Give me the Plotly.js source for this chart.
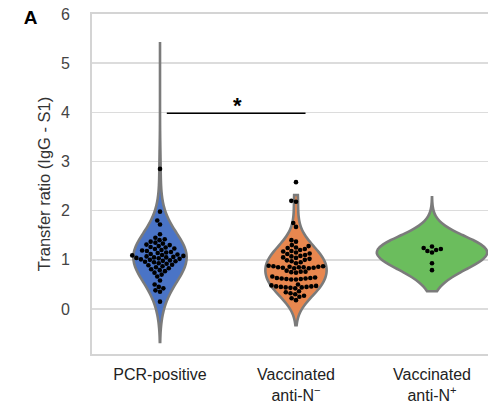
<!DOCTYPE html>
<html>
<head>
<meta charset="utf-8">
<script src="https://cdn.plot.ly/plotly-3.0.1.min.js"></script>
<style>
html,body{margin:0;padding:0;overflow:hidden;background:#fff;}
#chart{width:500px;height:406px;}
</style>
</head>
<body>
<div id="chart"></div>
<script>
// ---- data ----
const categories = ["PCR-positive", "Vaccinated<br>anti-N<sup>−</sup>", "Vaccinated<br>anti-N<sup>+</sup>"];
const yTicks = [0, 1, 2, 3, 4, 5, 6];

const pcrPositive = [2.85, 1.98, 1.80, 1.72, 1.52, 1.45,
  1.42, 1.40, 1.37, 1.35, 1.33, 1.31, 1.30, 1.28, 1.26, 1.25, 1.23, 1.22, 1.20, 1.19,
  1.18, 1.16, 1.15, 1.14, 1.12, 1.11, 1.10, 1.09, 1.08, 1.07, 1.06, 1.05, 1.05, 1.04,
  1.03, 1.02, 1.01, 1.00, 0.99, 0.98, 0.97, 0.96, 0.95, 0.93, 0.92, 0.90, 0.89, 0.87,
  0.85, 0.83, 0.81, 0.79, 0.77, 0.74, 0.70,
  0.66, 0.58, 0.50, 0.45, 0.42, 0.38, 0.35, 0.15];

const vaccAntiNneg = [2.58, 2.20, 2.18, 1.75, 1.67, 1.40, 1.37,
  1.30, 1.28, 1.25, 1.24, 1.22, 1.20, 1.18, 1.17, 1.15, 1.13, 1.12, 1.10, 1.08, 1.07,
  1.05, 1.04, 1.02, 1.00, 0.99, 0.97, 0.95, 0.93,
  0.88, 0.87, 0.87, 0.86, 0.86, 0.85, 0.85, 0.85, 0.84, 0.84, 0.83, 0.83,
  0.78, 0.76, 0.76, 0.75, 0.74,
  0.66, 0.64, 0.63, 0.63, 0.62, 0.62, 0.61, 0.61, 0.60, 0.60,
  0.50, 0.48, 0.47, 0.46, 0.46, 0.45, 0.45, 0.44, 0.44, 0.43, 0.42,
  0.36, 0.34, 0.32, 0.30, 0.27, 0.25, 0.22, 0.18];

const vaccAntiNpos = [1.27, 1.24, 1.22, 1.20, 1.18, 1.15, 0.93, 0.79];

const groups = [pcrPositive, vaccAntiNneg, vaccAntiNpos];
const violinSpans = [[-0.67, 5.43], [-0.33, 2.32], [0.36, 2.27]];
const bandwidths = [0.42, 0.27, 0.30];
const fillColors = ["#4a74c6", "#e8874f", "#6bbd5d"];
const violinWidths = [0.39, 0.45, 0.81];

// ---- geometry ----
const W = 500, H = 406;
const M = {l: 92, r: 0, t: 14, b: 52};
const xRange = [-0.5, 2.5];
const yRange = [-0.915, 6];
const pxPerX = (W - M.l - M.r) / (xRange[1] - xRange[0]);
const pxPerY = (H - M.t - M.b) / (yRange[1] - yRange[0]);

// beeswarm layout (computed in pixels, converted to data units)
function swarm(vals, center, d) {
  const order = vals.map((v, i) => i).sort((a, b) => vals[a] - vals[b]);
  const placed = [];
  const xs = new Array(vals.length);
  order.forEach(i => {
    const py = vals[i] * pxPerY;
    const forb = [];
    placed.forEach(p => {
      const dy = Math.abs(p.y - py);
      if (dy < d) {
        const w = Math.sqrt(d * d - dy * dy);
        forb.push([p.x - w, p.x + w]);
      }
    });
    const cands = [0];
    forb.forEach(f => { cands.push(f[0], f[1]); });
    cands.sort((a, b) => Math.abs(a) - Math.abs(b) || a - b);
    let best = 0;
    for (const c of cands) {
      if (forb.every(f => c <= f[0] + 1e-9 || c >= f[1] - 1e-9)) { best = c; break; }
    }
    placed.push({x: best, y: py});
    xs[i] = center + best / pxPerX;
  });
  return xs;
}

const traces = [];
groups.forEach((vals, g) => {
  traces.push({
    type: "violin",
    x0: g,
    y: vals,
    name: "",
    width: violinWidths[g],
    bandwidth: bandwidths[g],
    spanmode: "manual",
    span: violinSpans[g],
    points: false,
    fillcolor: fillColors[g],
    opacity: 1,
    line: {color: "#7b7b7b", width: 2.6},
    box: {visible: false},
    meanline: {visible: false},
    hoverinfo: "skip",
    showlegend: false
  });
});
groups.forEach((vals, g) => {
  traces.push({
    type: "scatter",
    mode: "markers",
    x: swarm(vals, g, 4.8),
    y: vals,
    marker: {color: "#000", size: 4.6},
    hoverinfo: "skip",
    showlegend: false
  });
});

const fontFam = "Liberation Sans, Arial, Helvetica, sans-serif";
const layout = {
  width: W, height: H,
  margin: M,
  paper_bgcolor: "#fff", plot_bgcolor: "#fff",
  font: {family: fontFam, size: 16, color: "#222"},
  violinmode: "overlay",
  showlegend: false,
  title: {text: "<b>A</b>", xref: "container", yref: "container", x: 0.061, y: 1 - 17 / H,
          xanchor: "center", yanchor: "middle", font: {family: fontFam, size: 19, color: "#000"}},
  xaxis: {
    range: xRange, tickvals: [0, 1, 2], ticktext: categories,
    showgrid: false, zeroline: false,
    showline: true, mirror: true, linecolor: "#d4d4d4", linewidth: 2,
    ticks: "outside", ticklen: 5, tickcolor: "rgba(0,0,0,0)",
    tickfont: {family: fontFam, size: 16, color: "#222"}
  },
  yaxis: {
    range: yRange, tickvals: yTicks,
    showgrid: true, gridcolor: "#dcdcdc", gridwidth: 1.5, zeroline: false,
    showline: true, mirror: true, linecolor: "#d4d4d4", linewidth: 2,
    ticks: "outside", ticklen: 17, tickcolor: "rgba(0,0,0,0)",
    tickfont: {family: fontFam, size: 16, color: "#444"},
    title: {text: "Transfer ratio (IgG - S1)", standoff: 6, font: {family: fontFam, size: 16.5, color: "#333"}}
  },
  shapes: [{type: "line", xref: "x", yref: "y", x0: 0.05, x1: 1.07, y0: 3.98, y1: 3.98,
            line: {color: "#000", width: 1.6}}],
  annotations: [{xref: "x", yref: "y", x: 0.57, y: 4.14, text: "<b>*</b>", showarrow: false,
                 font: {family: fontFam, size: 22, color: "#000"}}]
};

Plotly.newPlot("chart", traces, layout, {displayModeBar: false, staticPlot: true});
</script>
</body>
</html>
